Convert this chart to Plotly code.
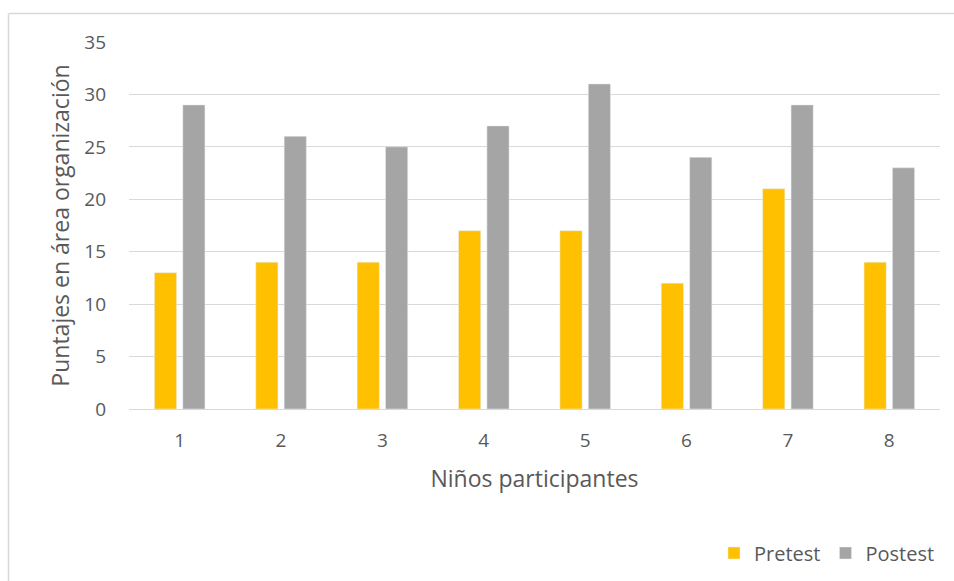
import plotly.graph_objects as go

categories = ["1", "2", "3", "4", "5", "6", "7", "8"]
pretest = [13, 14, 14, 17, 17, 12, 21, 14]
postest = [29, 26, 25, 27, 31, 24, 29, 23]
y_ticks = [0, 5, 10, 15, 20, 25, 30, 35]

W, H = 954, 581
L, R, T, B = 129, 14, 42, 172
pw = W - L - R
ph = H - T - B

def px_x(x):
    return (x - L) / pw

def px_y(y):
    return (H - B - y) / ph

font_family = "Open Sans, Liberation Sans, sans-serif"
text_color = "#595959"

fig = go.Figure()
fig.add_trace(go.Bar(x=categories, y=pretest, name="Pretest", marker_color="#FFC000"))
fig.add_trace(go.Bar(x=categories, y=postest, name="Postest", marker_color="#A5A5A5"))

fig.update_layout(
    width=W, height=H,
    margin=dict(l=L, r=R, t=T, b=B, autoexpand=False),
    paper_bgcolor="white", plot_bgcolor="white",
    barmode="group", bargap=0.44, bargroupgap=0.22,
    font=dict(family=font_family, color=text_color, size=19),
    showlegend=True,
    legend=dict(orientation="h", x=1.0, xanchor="right", y=px_y(553), yanchor="middle",
                font=dict(size=20, color=text_color), itemwidth=30,
                traceorder="normal", bgcolor="rgba(0,0,0,0)"),
    xaxis=dict(
        type="category", showgrid=False, zeroline=False, showline=False,
        ticks="", tickfont=dict(size=19, color=text_color),
        ticklabelstandoff=18,
        title=dict(text="Niños participantes", font=dict(size=23, color=text_color), standoff=18),
    ),
    yaxis=dict(
        range=[0, 35], tickvals=y_ticks, showgrid=True, gridcolor="#D9D9D9", gridwidth=1.3,
        zeroline=True, zerolinecolor="#D9D9D9", zerolinewidth=1.3, showline=False,
        ticks="", tickfont=dict(size=19, color=text_color), ticklabelstandoff=22,
        title=dict(text="Puntajes en área organización", font=dict(size=23, color=text_color), standoff=8),
    ),
    shapes=[
        dict(type="line", xref="paper", yref="paper", x0=px_x(8.5), x1=px_x(8.5),
             y0=px_y(13.5), y1=px_y(600), line=dict(color="#D9D9D9", width=1.5)),
        dict(type="line", xref="paper", yref="paper", x0=px_x(8.5), x1=px_x(980),
             y0=px_y(13.5), y1=px_y(13.5), line=dict(color="#D9D9D9", width=1.5)),
    ],
)

fig.write_html("out.html")
